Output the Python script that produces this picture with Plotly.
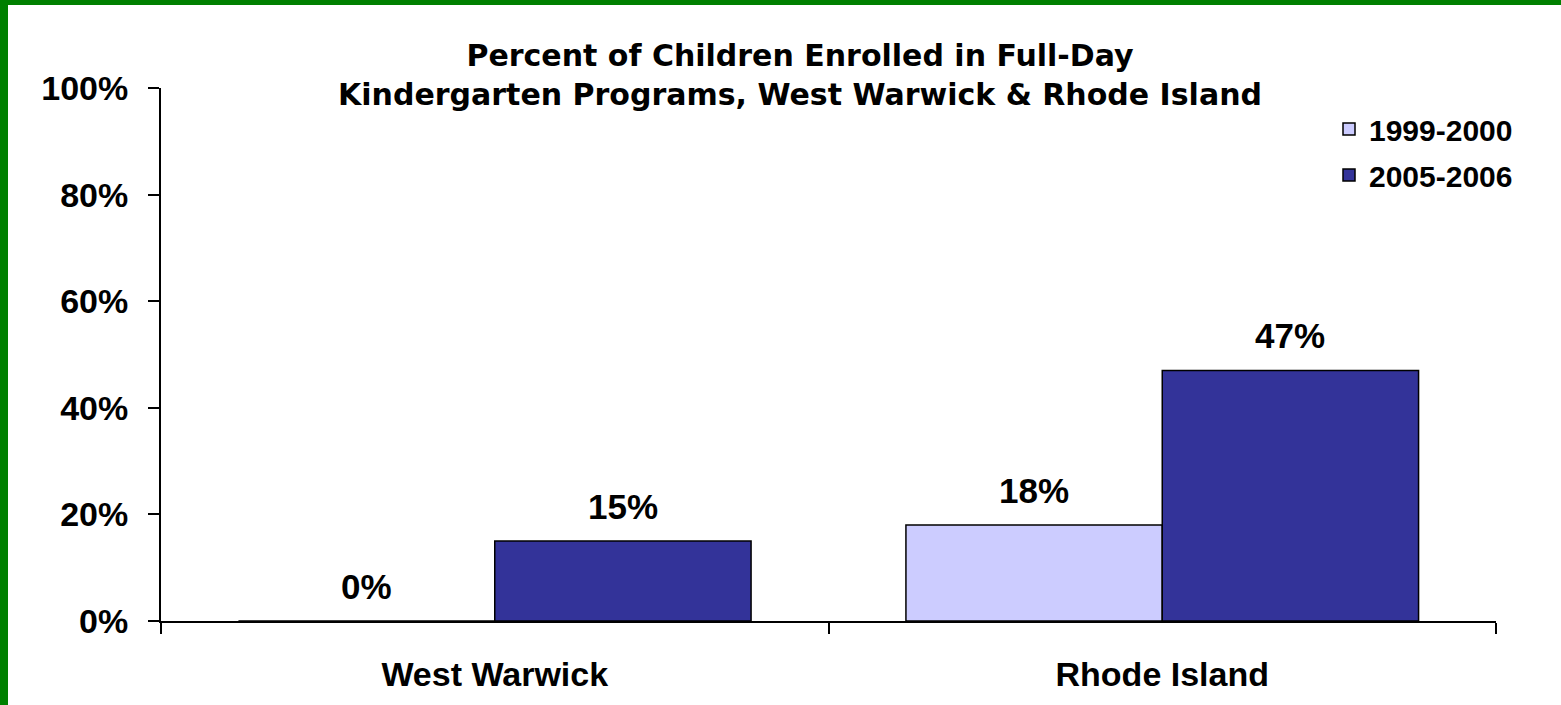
import plotly.graph_objects as go

# dados
categorias = ['West Warwick', 'Rhode Island']
anos = ['1999-2000', '2005-2006']
valores_1999 = [0.00, 0.18]
valores_2005 = [0.15, 0.47]
cores = ['#CCCCFF', '#333399']

fonte = 'Liberation Sans, Arial, sans-serif'
fonte_titulo = 'DejaVu Sans, Liberation Sans, sans-serif'
W, H = 1561, 705
ml, mr, mt, mb = 161, 65, 88, 84
bargap = 0.232

fig = go.Figure()

series = [valores_1999, valores_2005]
for ano, vals, cor in zip(anos, series, cores):
    fig.add_trace(go.Bar(
        x = categorias, y = vals, name = ano, legendgroup = ano,
        marker = dict(color = cor, line = dict(color = 'black', width = 1.5)),
    ))

# rótulos acima das barras: posição calculada a partir do agrupamento das barras
largura_barra = (1 - bargap) / len(series)
anotacoes = []
for j, vals in enumerate(series):
    for i, v in enumerate(vals):
        anotacoes.append(dict(
            x = i + (j - (len(series) - 1) / 2) * largura_barra, y = v,
            xref = 'x', yref = 'y', text = f'{v:.0%}', showarrow = False,
            yanchor = 'bottom', yshift = 13,
            font = dict(family = fonte, size = 35, color = 'black', weight = 'bold'),
        ))

pw = W - ml - mr
ph = H - mt - mb

fig.update_layout(
    width = W, height = H,
    margin = dict(l = ml, r = mr, t = mt, b = mb, autoexpand = False),
    paper_bgcolor = 'white', plot_bgcolor = 'white',
    barmode = 'group', bargap = bargap, bargroupgap = 0,
    font = dict(family = fonte, color = 'black'),
    title = dict(
        text = 'Percent of Children Enrolled in Full-Day<br>Kindergarten Programs, West Warwick & Rhode Island',
        x = 800 / W, xanchor = 'center', xref = 'container',
        y = 1 - 66 / H, yanchor = 'top', yref = 'container',
        font = dict(size = 30, weight = 'bold', family = fonte_titulo),
    ),
    legend = dict(
        x = 1329 / W, xref = 'container', xanchor = 'left',
        y = 1 - 103 / H, yref = 'container', yanchor = 'top',
        font = dict(size = 30, weight = 'bold', family = fonte),
        bgcolor = 'rgba(0,0,0,0)', tracegroupgap = 4,
    ),
    xaxis = dict(
        showline = True, linecolor = 'black', linewidth = 2,
        ticks = 'outside', tickson = 'boundaries', ticklen = 11, tickwidth = 2, tickcolor = 'black',
        tickfont = dict(size = 34, weight = 'bold'), showgrid = False, ticklabelstandoff = 22,
    ),
    yaxis = dict(
        range = [0, 1], dtick = 0.2, tickformat = '.0%',
        showline = True, linecolor = 'black', linewidth = 2,
        ticks = 'outside', ticklen = 11, tickwidth = 2, tickcolor = 'black',
        tickfont = dict(size = 34, weight = 'bold'), showgrid = False, zeroline = False,
        ticklabelstandoff = 13,
    ),
    annotations = anotacoes,
    shapes = [
        # borda verde à esquerda e no topo
        dict(type = 'rect', xref = 'paper', yref = 'paper',
             x0 = -ml / pw, x1 = (8 - ml) / pw, y0 = -mb / ph, y1 = 1 + mt / ph,
             fillcolor = 'green', line = dict(width = 0), layer = 'above'),
        dict(type = 'rect', xref = 'paper', yref = 'paper',
             x0 = -ml / pw, x1 = 1 + mr / pw, y0 = 1 + (mt - 5) / ph, y1 = 1 + mt / ph,
             fillcolor = 'green', line = dict(width = 0), layer = 'above'),
    ],
)

# tira a margem padrão do body para a figura começar no canto da página
fig.write_html('out.html', config = {'displayModeBar': False},
               post_script = "document.body.style.margin = '0';")
